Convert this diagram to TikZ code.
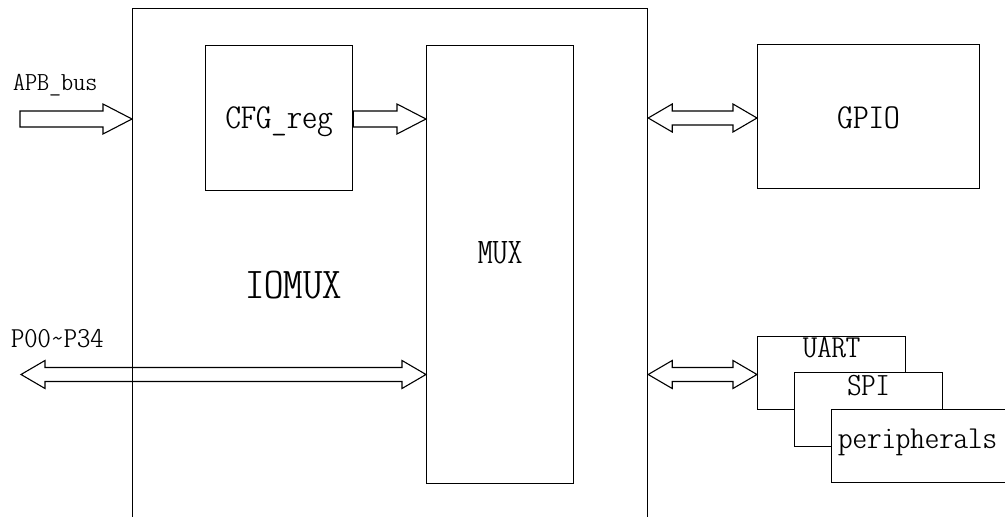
\documentclass[tikz,border=0pt]{standalone}
\usepackage{graphicx}
\usetikzlibrary{calc}
\tikzset{
  box/.style={draw, line width=1.2pt, inner sep=0pt, anchor=north west, fill=white},
  lbl/.style={inner sep=0pt, anchor=base, font=\ttfamily\fontseries{lc}\selectfont},
  fat/.style={draw, line width=1.1pt, line join=miter},
}
\newcommand\lt[3]{\scalebox{#2}[1]{\fontsize{#1}{#1}\selectfont #3}}
\newcommand\onearrow[2]{\path[fat] ($(#1)+(0,8)$) -- ($(#2)+(-29,8)$) -- ($(#2)+(-29,15)$) -- (#2) -- ($(#2)+(-29,-15)$) -- ($(#2)+(-29,-8)$) -- ($(#1)+(0,-8)$) -- cycle;}
\newcommand\twoarrow[2]{\path[fat] (#1) -- ($(#1)+(24,14)$) -- ($(#1)+(24,7)$) -- ($(#2)+(-24,7)$) -- ($(#2)+(-24,14)$) -- (#2) -- ($(#2)+(-24,-14)$) -- ($(#2)+(-24,-7)$) -- ($(#1)+(24,-7)$) -- ($(#1)+(24,-14)$) -- cycle;}
\begin{document}
\begin{tikzpicture}[x=1pt, y=-1pt]
\useasboundingbox (0,0) rectangle (1005,517);
\clip (0,0) rectangle (1005,517);
% boxes
\node[box, minimum width=515, minimum height=530] (iomux) at (132,8) {};
\node[box, minimum width=147, minimum height=145] (cfg) at (205,45) {};
\node[box, minimum width=147, minimum height=438] (mux) at (426,45) {};
\node[box, minimum width=222, minimum height=144] (gpio) at (757,44) {};
\node[box, minimum width=148, minimum height=73] (uart) at (757,336) {};
\node[box, minimum width=148, minimum height=74] (spi) at (794,372) {};
\node[box, minimum width=190, minimum height=73] (periph) at (831,409) {};
% labels
\node[lbl, anchor=base west] (apbl) at (13,90) {\lt{26}{1.32}{APB\_bus}};
\node[lbl] (cfgl) at (cfg.center |- 0,128) {\lt{35}{1.25}{CFG\_reg}};
\node[lbl] (gpiol) at (gpio.center |- 0,128) {\lt{35}{1.27}{GPIO}};
\node[lbl] (muxl) at (mux.center |- 0,263) {\lt{36}{1.18}{MUX}};
\node[lbl] (iomuxl) at (293.5,298) {\lt{44}{1.25}{IOMUX}};
\node[lbl, anchor=base west] (pl) at (11,347) {\lt{29}{1.3}{P00\textasciitilde P34}};
\node[lbl] (uartl) at (uart.center |- 0,357) {\lt{32}{1.28}{UART}};
\node[lbl] (spil) at (spi.center |- 0,395) {\lt{32.5}{1.25}{SPI}};
\node[lbl, anchor=base west] (perl) at (838,448) {\lt{32}{1.29}{peripherals}};
% arrow end points
\coordinate (apbtail) at (20,119);
\coordinate (apbtip) at (iomux.west |- apbtail);
\coordinate (cfgtail) at (cfg.east |- apbtail);
\coordinate (cfgtip) at (mux.west |- apbtail);
\coordinate (gpa) at (iomux.east |- 0,118);
\coordinate (gpb) at (gpio.west |- 0,118);
\coordinate (ua) at (iomux.east |- 0,374.5);
\coordinate (ub) at (uart.west |- 0,374.5);
\coordinate (pa) at (21,374.5);
\coordinate (pb) at (mux.west |- 0,374.5);
% arrows
\onearrow{apbtail}{apbtip}
\onearrow{cfgtail}{cfgtip}
\twoarrow{gpa}{gpb}
\twoarrow{ua}{ub}
\twoarrow{pa}{pb}
\end{tikzpicture}
\end{document}
